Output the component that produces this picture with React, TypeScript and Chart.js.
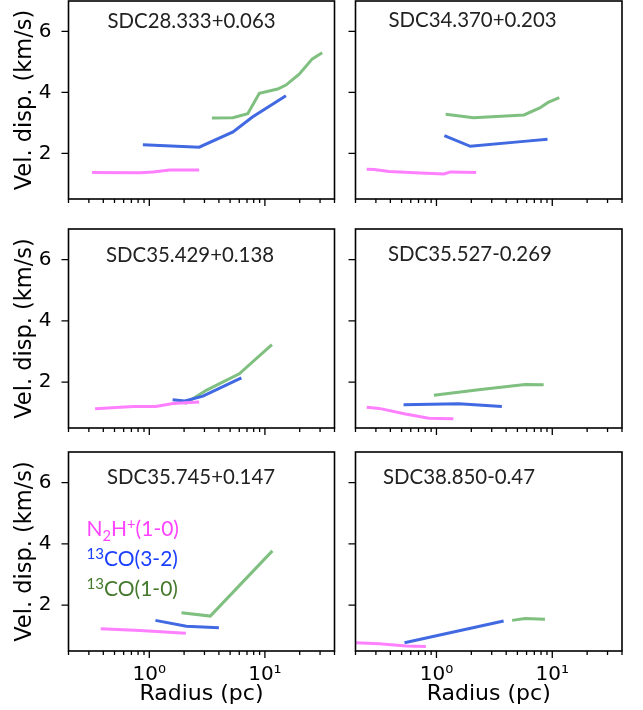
import { useEffect, useRef } from "react"
import { Chart, registerables } from "chart.js"

Chart.register(...registerables)

// one entry per panel, in reading order
const panelNames = [
  "SDC28.333+0.063",
  "SDC34.370+0.203",
  "SDC35.429+0.138",
  "SDC35.527-0.269",
  "SDC35.745+0.147",
  "SDC38.850-0.47",
]

const n2hpRadius = [
  [0.32, 0.83, 1.08, 1.5, 2.7],
  [0.25, 0.29, 0.39, 0.73, 1.16, 1.32, 2.2],
  [0.34, 0.73, 1.14, 1.6, 2.7],
  [0.25, 0.32, 0.54, 0.86, 1.4],
  [0.38, 0.83, 2.07],
  [0.2, 0.32, 0.55, 0.81],
]
const n2hpDisp = [
  [1.37, 1.36, 1.39, 1.45, 1.45],
  [1.48, 1.47, 1.4, 1.35, 1.32, 1.39, 1.37],
  [1.13, 1.2, 1.2, 1.3, 1.35],
  [1.18, 1.14, 0.96, 0.82, 0.8],
  [1.23, 1.17, 1.08],
  [0.77, 0.74, 0.66, 0.65],
]

const co32Radius = [
  [0.88, 2.7, 5.3, 7.8, 15.2],
  [1.17, 1.96, 6.0, 9.1],
  [1.59, 2.03, 2.91, 6.26],
  [0.52, 1.56, 3.67],
  [1.13, 2.09, 4.0],
  [0.53, 3.8],
]
const co32Disp = [
  [2.28, 2.2, 2.7, 3.19, 3.89],
  [2.58, 2.23, 2.4, 2.46],
  [1.42, 1.38, 1.54, 2.14],
  [1.26, 1.29, 1.2],
  [1.5, 1.31, 1.26],
  [0.77, 1.48],
]

const co10Radius = [
  [3.48, 5.28, 7.1, 8.95, 12.9, 15.2, 19.8, 25.7, 31.3],
  [1.2, 2.09, 5.7, 7.8, 9.2, 11.5],
  [2.03, 3.11, 6.0, 11.5],
  [0.95, 2.31, 5.82, 8.43],
  [1.9, 3.37, 11.6],
  [4.5, 5.8, 8.65],
]
const co10Disp = [
  [3.16, 3.17, 3.3, 3.97, 4.11, 4.24, 4.6, 5.1, 5.3],
  [3.28, 3.17, 3.26, 3.49, 3.67, 3.83],
  [1.29, 1.73, 2.27, 3.22],
  [1.57, 1.75, 1.92, 1.91],
  [1.75, 1.64, 3.77],
  [1.5, 1.56, 1.54],
]

const xTicks = [0.2, 0.3, 0.4, 0.5, 0.6, 0.7, 0.8, 0.9, 1, 2, 3, 4, 5, 6, 7, 8, 9, 10, 20, 30, 40]
const yTicks = [2, 4, 6]

// page layout (px)
const PAGE_W = 643
const PAGE_H = 710
const COLS = [[68.5, 334.5], [355.5, 622]]
const ROWS = [[1, 199], [229, 428], [452, 651]]
const titleDx = [39, 33, 37.5, 32.5, 38.5, 27.5]
const titleDy = [27, 26, 32.5, 32, 31.5, 31.5]

const PINK = "#ff80ff"
const BLUE = "#4169e1"
const GREEN = "#7fbf7f"

function pts(xs: number[], ys: number[]) {
  return xs.map((x, i) => ({ x, y: ys[i] }))
}

type Piece = { t: string; s?: number; dy?: number }

function drawPieces(ctx: CanvasRenderingContext2D, pieces: Piece[], x: number, y: number, size: number) {
  let cx = x
  for (const p of pieces) {
    const s = p.s ?? 1
    ctx.font = `${size * s}px Lato`
    ctx.fillText(p.t, cx, y + (p.dy ?? 0))
    cx += ctx.measureText(p.t).width
  }
}

const panelDecor = {
  id: "panelDecor",
  afterDraw(chart: any, _args: any, opts: any) {
    const { ctx, chartArea: a } = chart
    const xs = chart.scales.x
    const ys = chart.scales.y
    ctx.save()
    ctx.strokeStyle = "#000"
    ctx.lineWidth = 1.3
    ctx.beginPath()
    xs.ticks.forEach((t: any) => {
      const p = xs.getPixelForValue(t.value)
      ctx.moveTo(p, a.bottom)
      ctx.lineTo(p, a.bottom + (t.major ? 7 : 4))
    })
    ys.ticks.forEach((t: any) => {
      const p = ys.getPixelForValue(t.value)
      ctx.moveTo(a.left, p)
      ctx.lineTo(a.left - 7, p)
    })
    ctx.stroke()
    ctx.lineWidth = 1.6
    ctx.strokeRect(a.left, a.top, a.right - a.left, a.bottom - a.top)

    ctx.fillStyle = "#222"
    ctx.textBaseline = "alphabetic"
    ctx.textAlign = "left"
    ctx.font = "20.4px Lato"
    ctx.fillText(opts.title, a.left + opts.dx, a.top + opts.dy)

    if (opts.legend) {
      const lx = a.left + 18
      ctx.fillStyle = "#ff44ff"
      drawPieces(ctx, [{ t: "N" }, { t: "2", s: 0.7, dy: 5 }, { t: "H" }, { t: "+", s: 0.7, dy: -7 }, { t: "(1-0)" }], lx, a.top + 84, 21)
      ctx.fillStyle = "#1a3fff"
      drawPieces(ctx, [{ t: "13", s: 0.72, dy: -7 }, { t: "CO(3-2)" }], lx, a.top + 114, 21)
      ctx.fillStyle = "#457a2e"
      drawPieces(ctx, [{ t: "13", s: 0.72, dy: -7 }, { t: "CO(1-0)" }], lx, a.top + 144, 21)
    }
    ctx.restore()
  },
}

export default function App() {
  const canvasRefs = useRef<(HTMLCanvasElement | null)[]>([])

  useEffect(() => {
    const charts: Chart[] = []
    panelNames.forEach((name, i) => {
      const canvas = canvasRefs.current[i]
      if (!canvas) return
      const col = i % 2
      const row = Math.floor(i / 2)
      const [left, right] = COLS[col]
      const [top, bottom] = ROWS[row]
      const line = (label: string, data: { x: number; y: number }[], color: string) => ({
        label,
        data,
        borderColor: color,
        backgroundColor: color,
        borderWidth: 3,
        pointRadius: 0,
        tension: 0,
        fill: false,
      })
      charts.push(
        new Chart(canvas, {
          type: "line",
          data: {
            datasets: [
              line("N2H+(1-0)", pts(n2hpRadius[i], n2hpDisp[i]), PINK),
              line("13CO(3-2)", pts(co32Radius[i], co32Disp[i]), BLUE),
              line("13CO(1-0)", pts(co10Radius[i], co10Disp[i]), GREEN),
            ],
          },
          options: {
            animation: false,
            responsive: false,
            events: [],
            layout: { padding: { left: 0, right: PAGE_W - right, top, bottom: 0 } },
            plugins: {
              legend: { display: false },
              tooltip: { enabled: false },
              panelDecor: { title: name, dx: titleDx[i], dy: titleDy[i], legend: i === 4 },
            } as any,
            scales: {
              x: {
                type: "logarithmic",
                min: 0.2,
                max: 40,
                afterBuildTicks: (s: any) => {
                  s.ticks = xTicks.map((v) => ({ value: v, major: v === 1 || v === 10 }))
                },
                afterFit: (s: any) => {
                  s.height = PAGE_H - bottom
                  s.paddingLeft = 0
                  s.paddingRight = 0
                },
                grid: { display: false, drawTicks: false },
                border: { display: false },
                ticks: {
                  display: row === 2,
                  autoSkip: false,
                  maxRotation: 0,
                  minRotation: 0,
                  padding: 12,
                  color: "#000",
                  font: { family: "DejaVu Sans", size: 20 },
                  callback: (v: any) => (v === 1 ? "10\u2070" : v === 10 ? "10\u00b9" : ""),
                },
                title: {
                  display: row === 2,
                  text: "Radius (pc)",
                  color: "#000",
                  font: { family: "DejaVu Sans", size: 22 },
                  padding: { top: 0, bottom: 3 },
                },
              },
              y: {
                type: "linear",
                min: 0.5,
                max: 7,
                afterBuildTicks: (s: any) => {
                  s.ticks = yTicks.map((v) => ({ value: v }))
                },
                afterFit: (s: any) => {
                  s.width = left
                  s.paddingTop = 0
                  s.paddingBottom = 0
                },
                grid: { display: false, drawTicks: false },
                border: { display: false },
                ticks: {
                  display: col === 0,
                  padding: 17,
                  color: "#000",
                  font: { family: "DejaVu Sans", size: 20 },
                },
                title: {
                  display: col === 0,
                  text: "Vel. disp. (km/s)",
                  color: "#000",
                  font: { family: "DejaVu Sans", size: 22.5 },
                  padding: { top: 11.5, bottom: 0 },
                },
              },
            },
          },
          plugins: [panelDecor],
        })
      )
    })
    return () => {
      charts.forEach((c) => c.destroy())
    }
  }, [])

  return (
    <div style={{ position: "absolute", left: 0, top: 0, width: PAGE_W, height: PAGE_H, background: "#fff" }}>
      {panelNames.map((n, i) => (
        <canvas
          key={n}
          ref={(el) => {
            canvasRefs.current[i] = el
          }}
          width={PAGE_W}
          height={PAGE_H}
          style={{ position: "absolute", left: 0, top: 0 }}
        />
      ))}
    </div>
  )
}
